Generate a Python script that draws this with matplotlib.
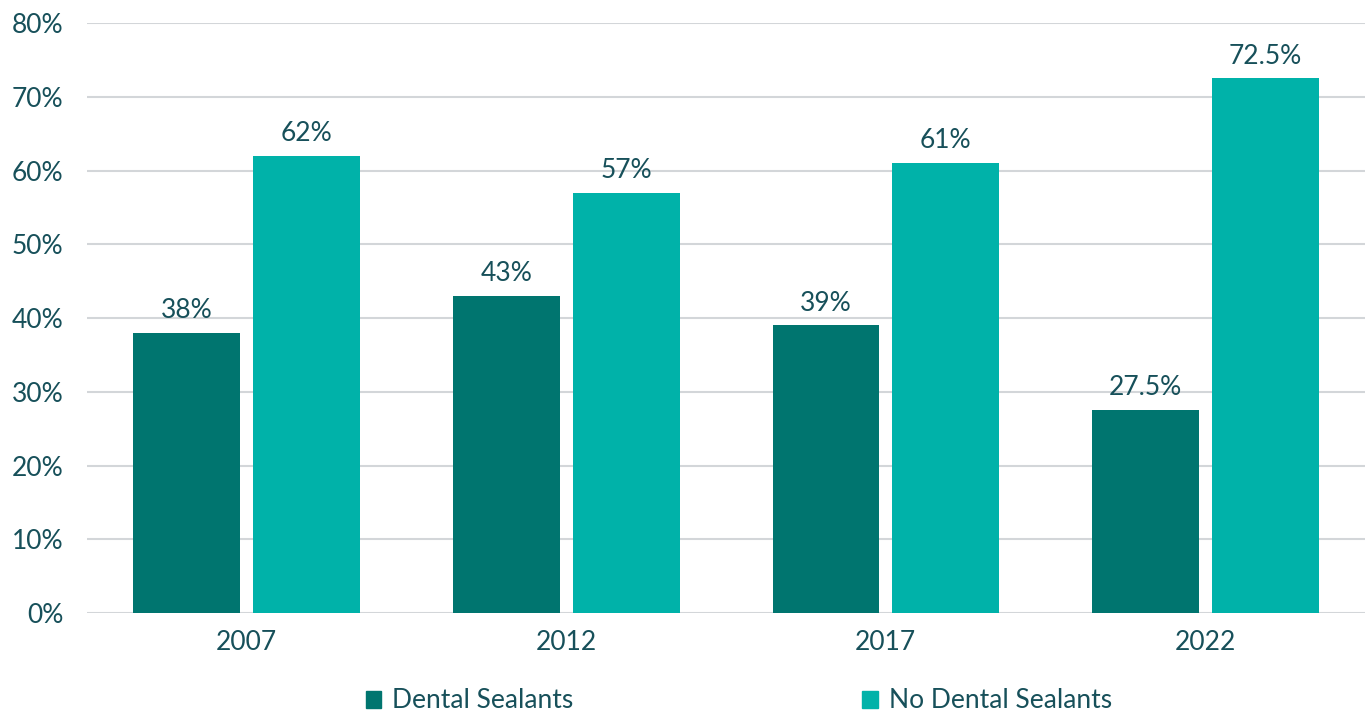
import matplotlib
matplotlib.use("Agg")
import matplotlib.pyplot as plt
from matplotlib.patches import Patch
import numpy as np

years = ["2007", "2012", "2017", "2022"]
sealants = [38, 43, 39, 27.5]
no_sealants = [62, 57, 61, 72.5]
sealant_labels = ["38%", "43%", "39%", "27.5%"]
no_sealant_labels = ["62%", "57%", "61%", "72.5%"]
yticks = [0, 10, 20, 30, 40, 50, 60, 70, 80]

dark = "#00756F"
light = "#00B2A9"
txt = "#17505A"
grid = "#D3D6D9"
fs = 19

plt.rcParams['font.family'] = ['Lato', 'DejaVu Sans']

fig = plt.figure(figsize=(13.67, 7.12), dpi=100)
ax = fig.add_axes([0.0636, 0.139, 0.935, 0.8287])

x = np.arange(len(years))
w = 0.334
off = 0.1875
b1 = ax.bar(x - off, sealants, w, color=dark, zorder=3)
b2 = ax.bar(x + off, no_sealants, w, color=light, zorder=3)

for bars, labs in ((b1, sealant_labels), (b2, no_sealant_labels)):
    for r, l in zip(bars, labs):
        ax.annotate(l, (r.get_x() + r.get_width() / 2, r.get_height()),
                    xytext=(0, 7), textcoords="offset points",
                    ha="center", va="bottom", fontsize=fs, color=txt)

ax.set_xlim(-0.5, 3.5)
ax.set_ylim(0, 80)
ax.set_yticks(yticks)
ax.set_yticklabels([f"{t}%" for t in yticks])
ax.set_xticks(x)
ax.set_xticklabels(years)
ax.yaxis.grid(True, color=grid, lw=1.5, zorder=0)
ax.set_axisbelow(True)
for s in ax.spines.values():
    s.set_visible(False)
ax.tick_params(axis="both", length=0, labelsize=fs, colors=txt)
ax.tick_params(axis="y", pad=17)
ax.tick_params(axis="x", pad=12)

handles = [Patch(color=dark, label="Dental Sealants"),
           Patch(color=light, label="No Dental Sealants")]
fig.legend(handles=handles, loc="center", bbox_to_anchor=(0.5403, 0.0155),
           ncol=2, frameon=False, fontsize=fs, labelcolor=txt,
           handlelength=0.6, handleheight=0.6, handletextpad=0.4,
           columnspacing=10.95)

fig.savefig("out.png", dpi=100)
